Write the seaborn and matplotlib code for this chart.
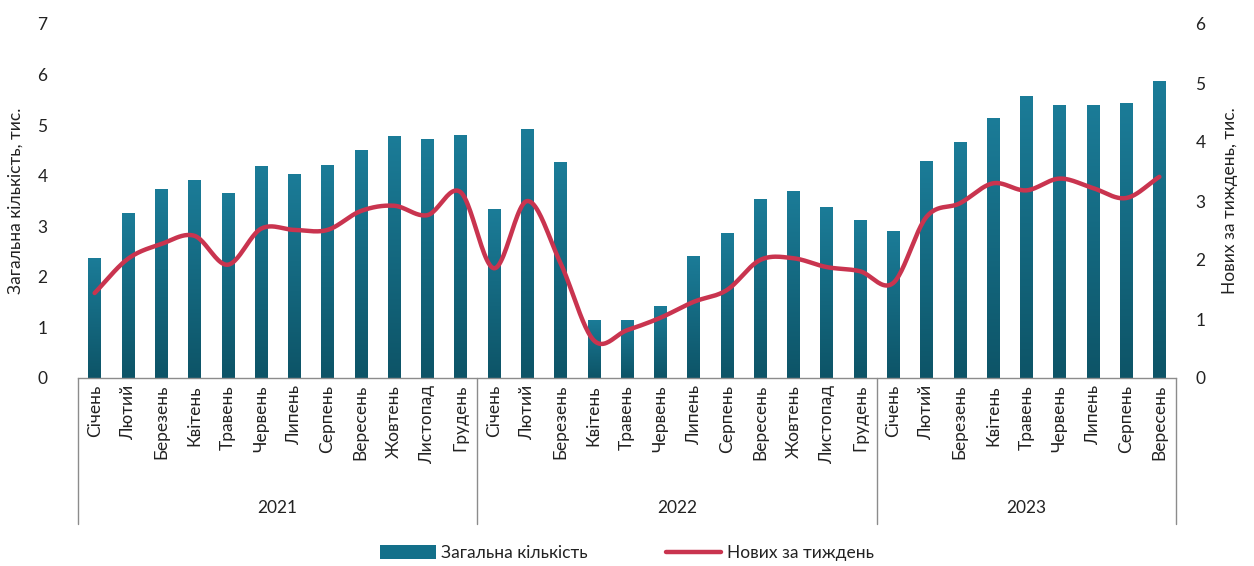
import numpy as np
import pandas as pd
import matplotlib
matplotlib.use("Agg")
import matplotlib.pyplot as plt
import matplotlib.transforms as mtransforms
from matplotlib.colors import LinearSegmentedColormap
from matplotlib.patches import Patch
from matplotlib.lines import Line2D
import seaborn as sns

# --- data -------------------------------------------------------------
years = ["2021", "2022", "2023"]
months_2021 = ["Січень", "Лютий", "Березень", "Квітень", "Травень", "Червень",
               "Липень", "Серпень", "Вересень", "Жовтень", "Листопад", "Грудень"]
months_2022 = ["Січень", "Лютий", "Березень", "Квітень", "Травень", "Червень",
               "Липень", "Серпень", "Вересень", "Жовтень", "Листопад", "Грудень"]
months_2023 = ["Січень", "Лютий", "Березень", "Квітень", "Травень", "Червень",
               "Липень", "Серпень", "Вересень"]

# total count, thousands (left axis)
total_2021 = [2.37, 3.26, 3.74, 3.91, 3.66, 4.19, 4.03, 4.21, 4.51, 4.78, 4.72, 4.80]
total_2022 = [3.34, 4.92, 4.27, 1.15, 1.15, 1.42, 2.41, 2.87, 3.54, 3.70, 3.38, 3.12]
total_2023 = [2.90, 4.29, 4.66, 5.14, 5.57, 5.40, 5.40, 5.43, 5.87]

# new per week, thousands (right axis)
weekly_2021 = [1.44, 2.02, 2.27, 2.41, 1.92, 2.53, 2.51, 2.51, 2.83, 2.92, 2.76, 3.15]
weekly_2022 = [1.86, 3.00, 1.95, 0.64, 0.81, 1.02, 1.29, 1.49, 2.00, 2.03, 1.88, 1.81]
weekly_2023 = [1.61, 2.73, 2.96, 3.30, 3.18, 3.38, 3.22, 3.05, 3.41]

left_label = "Загальна кількість, тис."
right_label = "Нових за тиждень, тис."
bar_name = "Загальна кількість"
line_name = "Нових за тиждень"

months = months_2021 + months_2022 + months_2023
total = total_2021 + total_2022 + total_2023
weekly = weekly_2021 + weekly_2022 + weekly_2023
year_sizes = [len(months_2021), len(months_2022), len(months_2023)]

df = pd.DataFrame({
    "pos": np.arange(len(months)),
    "month": months,
    "total": total,
    "weekly": weekly,
})

# --- style ------------------------------------------------------------
sns.set_theme(style="white")
plt.rcParams["font.family"] = ["Lato", "DejaVu Sans"]
TEXT = "#222222"
BAR_TOP = "#1b7c98"
BAR_BOTTOM = "#0d5467"
LINE = "#c9344f"
GRID = "#8c8c8c"

fig = plt.figure(figsize=(12.54, 5.66), dpi=100)
ax = fig.add_axes([78 / 1254, 1 - 378 / 566, (1176 - 78) / 1254, (378 - 24) / 566])

sns.barplot(data=df, x="pos", y="total", ax=ax, color=BAR_TOP, width=0.37,
            native_scale=False, saturation=1)

ax.set_ylim(0, 7)
ax.set_xlim(-0.5, len(months) - 0.5)

# vertical gradient inside each bar
cmap = LinearSegmentedColormap.from_list("bar", [BAR_BOTTOM, BAR_TOP])
grad = np.linspace(0, 1, 256).reshape(-1, 1)
for p in list(ax.patches):
    x0, y0 = p.get_x(), p.get_y()
    w, h = p.get_width(), p.get_height()
    p.set_facecolor("none")
    p.set_edgecolor("none")
    im = ax.imshow(grad, cmap=cmap, origin="lower", aspect="auto",
                   extent=[x0, x0 + w, y0, y0 + h], zorder=2)
    im.set_clip_path(p)
ax.set_xlim(-0.5, len(months) - 0.5)
ax.set_ylim(0, 7)

# axes frame: only the category baseline
for side in ["top", "right", "left"]:
    ax.spines[side].set_visible(False)
ax.spines["bottom"].set_color(GRID)
ax.spines["bottom"].set_linewidth(1.0)

ax.set_yticks(range(0, 8))
ax.tick_params(axis="y", length=0, labelsize=12.5, labelcolor=TEXT, pad=22)
ax.set_xticks(df["pos"])
ax.set_xticklabels(months, rotation=90, fontsize=12.5, color=TEXT)
ax.tick_params(axis="x", length=0, pad=5)
for lab in ax.get_xticklabels():
    lab.set_verticalalignment("top")
ax.set_xlabel("")
ax.set_ylabel(left_label, fontsize=12.5, color=TEXT, labelpad=10)

# year group separators and labels
trans = mtransforms.blended_transform_factory(ax.transData, ax.transAxes)
bounds = np.concatenate([[0], np.cumsum(year_sizes)]) - 0.5
for b in bounds:
    ax.plot([b, b], [0, -0.412], transform=trans, color=GRID, lw=1.0,
            clip_on=False)
for i, yr in enumerate(years):
    mid = (bounds[i] + bounds[i + 1]) / 2
    ax.text(mid, -0.367, yr, transform=trans, ha="center", va="center",
            fontsize=12.5, color=TEXT)

# --- secondary axis: smoothed weekly line -----------------------------
ax2 = ax.twinx()
ax2.set_ylim(0, 6)
ax2.set_yticks(range(0, 7))
ax2.tick_params(axis="y", length=0, labelsize=12.5, labelcolor=TEXT, pad=14)
for side in ["top", "right", "left", "bottom"]:
    ax2.spines[side].set_visible(False)
ax2.set_ylabel(right_label, fontsize=12.5, color=TEXT, labelpad=12,
               rotation=90)


def catmull_rom(xs, ys, steps=24):
    pts = np.column_stack([xs, ys]).astype(float)
    pts = np.vstack([2 * pts[0] - pts[1], pts, 2 * pts[-1] - pts[-2]])
    out = []
    t = np.linspace(0, 1, steps, endpoint=False)[:, None]
    for i in range(1, len(pts) - 2):
        p0, p1, p2, p3 = pts[i - 1], pts[i], pts[i + 1], pts[i + 2]
        seg = 0.5 * ((2 * p1) + (-p0 + p2) * t
                     + (2 * p0 - 5 * p1 + 4 * p2 - p3) * t ** 2
                     + (-p0 + 3 * p1 - 3 * p2 + p3) * t ** 3)
        out.append(seg)
    out.append(pts[-2][None, :])
    out = np.vstack(out)
    return out[:, 0], out[:, 1]


sx, sy = catmull_rom(df["pos"].values, df["weekly"].values)
sns.lineplot(x=sx, y=sy, ax=ax2, color=LINE, lw=3.2, sort=False,
             estimator=None, legend=False)
ax2.set_xlim(-0.5, len(months) - 0.5)

# --- legend -----------------------------------------------------------
handles = [Patch(facecolor="#13708a", edgecolor="none"),
           Line2D([0], [0], color=LINE, lw=3.2)]
fig.legend(handles, [bar_name, line_name], loc="center",
           bbox_to_anchor=(0.5, 1 - 553 / 566), ncol=2, frameon=False,
           fontsize=12.5, handlelength=3.2, handleheight=0.9,
           handletextpad=0.3, columnspacing=4.5, labelcolor=TEXT)

fig.savefig("out.png", dpi=100)
